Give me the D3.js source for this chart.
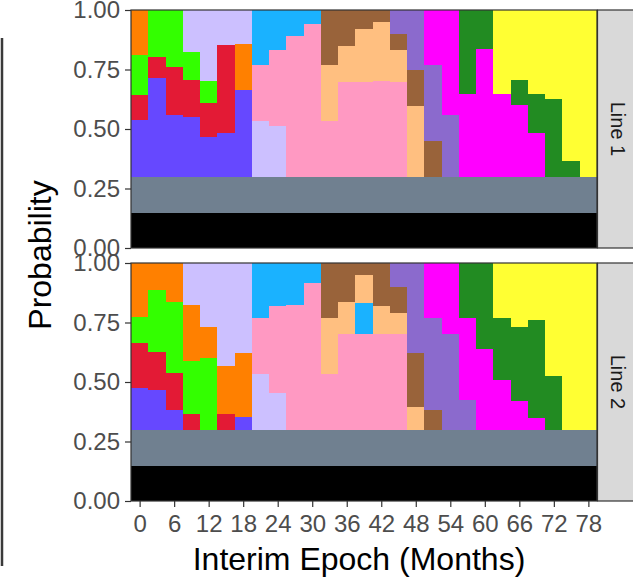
<!DOCTYPE html>
<html>
<head>
<meta charset="utf-8">
<script src="https://cdn.jsdelivr.net/npm/d3@7"></script>
<style>
  body { margin: 0; background: #fff; }
  svg text { font-family: "Liberation Sans", Arial, sans-serif; }
</style>
</head>
<body>
<script>
// months of each interim epoch (bar centres), and the x tick labels
const months = [0,3,6,9,12,15,18,21,24,27,30,33,36,39,42,45,48,51,54,57,60,63,66,69,72,75,78];
const xTicks = [0,6,12,18,24,30,36,42,48,54,60,66,72,78];
const yTicks = [0,0.25,0.5,0.75,1];
const lineNames = ["Line 1", "Line 2"];

// stack order, bottom to top
const categories = ["black","slate","violet","red","lime","orange","lavender","pink","sky","peach","brown","purple","magenta","forest","yellow"];
const catColors = ["#000000","#708090","#6648FF","#E31A35","#33FF00","#FF8000","#CCC0FF","#FF99C2","#1AB2FF","#FFBF80","#99633A","#8B6ACD","#FF00FF","#228B22","#FFFF33"];

// probabilities per category, one value per month, Line 1
const line1Probs = [
  [0.145,0.145,0.145,0.145,0.145,0.145,0.145,0.145,0.145,0.145,0.145,0.145,0.145,0.145,0.145,0.145,0.145,0.145,0.145,0.145,0.145,0.145,0.145,0.145,0.145,0.145,0.145],
  [0.155,0.155,0.155,0.155,0.155,0.155,0.155,0.155,0.155,0.155,0.155,0.155,0.155,0.155,0.155,0.155,0.155,0.155,0.155,0.155,0.155,0.155,0.155,0.155,0.155,0.155,0.155],
  [0.238,0.414,0.259,0.25,0.166,0.183,0.364,0,0,0,0,0,0,0,0,0,0,0,0,0,0,0,0,0,0,0,0],
  [0.105,0.089,0.202,0.156,0.143,0.37,0,0,0,0,0,0,0,0,0,0,0,0,0,0,0,0,0,0,0,0,0],
  [0.168,0.197,0.239,0.118,0.093,0,0,0,0,0,0,0,0,0,0,0,0,0,0,0,0,0,0,0,0,0,0],
  [0.189,0,0,0,0,0,0.193,0,0,0,0,0,0,0,0,0,0,0,0,0,0,0,0,0,0,0,0],
  [0,0,0,0.176,0.298,0.147,0.143,0.234,0.213,0,0,0,0,0,0,0,0,0,0,0,0,0,0,0,0,0,0],
  [0,0,0,0,0,0,0,0.235,0.319,0.591,0.641,0.234,0.397,0.397,0.402,0.397,0,0,0,0,0,0,0,0,0,0,0],
  [0,0,0,0,0,0,0,0.231,0.168,0.109,0.059,0,0,0,0,0,0,0,0,0,0,0,0,0,0,0,0],
  [0,0,0,0,0,0,0,0,0,0,0,0.235,0.152,0.223,0.248,0.135,0.297,0,0,0,0,0,0,0,0,0,0],
  [0,0,0,0,0,0,0,0,0,0,0,0.231,0.151,0.08,0.05,0.067,0.151,0.15,0,0,0,0,0,0,0,0,0],
  [0,0,0,0,0,0,0,0,0,0,0,0,0,0,0,0.101,0.252,0.319,0.259,0,0,0,0,0,0,0,0],
  [0,0,0,0,0,0,0,0,0,0,0,0,0,0,0,0,0,0.231,0.441,0.347,0.536,0.347,0.301,0.183,0,0,0],
  [0,0,0,0,0,0,0,0,0,0,0,0,0,0,0,0,0,0,0,0.353,0.164,0,0.105,0.164,0.326,0.066,0],
  [0,0,0,0,0,0,0,0,0,0,0,0,0,0,0,0,0,0,0,0,0,0.353,0.294,0.353,0.374,0.634,0.7]
];

// Line 2
const line2Probs = [
  [0.145,0.145,0.145,0.145,0.145,0.145,0.145,0.145,0.145,0.145,0.145,0.145,0.145,0.145,0.145,0.145,0.145,0.145,0.145,0.145,0.145,0.145,0.145,0.145,0.145,0.145,0.145],
  [0.155,0.155,0.155,0.155,0.155,0.155,0.155,0.155,0.155,0.155,0.155,0.155,0.155,0.155,0.155,0.155,0.155,0.155,0.155,0.155,0.155,0.155,0.155,0.155,0.155,0.155,0.155],
  [0.175,0.166,0.082,0,0,0,0.053,0,0,0,0,0,0,0,0,0,0,0,0,0,0,0,0,0,0,0,0],
  [0.189,0.16,0.156,0.066,0,0.066,0,0,0,0,0,0,0,0,0,0,0,0,0,0,0,0,0,0,0,0,0],
  [0.109,0.261,0.298,0.222,0.301,0,0,0,0,0,0,0,0,0,0,0,0,0,0,0,0,0,0,0,0,0,0],
  [0.227,0.113,0.164,0.236,0.13,0.201,0.269,0,0,0,0,0,0,0,0,0,0,0,0,0,0,0,0,0,0,0,0],
  [0,0,0,0.176,0.269,0.433,0.378,0.234,0.154,0,0,0,0,0,0,0,0,0,0,0,0,0,0,0,0,0,0],
  [0,0,0,0,0,0,0,0.235,0.365,0.524,0.616,0.234,0.402,0.402,0.402,0.402,0,0,0,0,0,0,0,0,0,0,0],
  [0,0,0,0,0,0,0,0.231,0.181,0.176,0.084,0,0,0.13,0,0,0,0,0,0,0,0,0,0,0,0,0],
  [0,0,0,0,0,0,0,0,0,0,0,0.235,0.134,0.118,0.117,0.088,0.095,0,0,0,0,0,0,0,0,0,0],
  [0,0,0,0,0,0,0,0,0,0,0,0.231,0.164,0.05,0.181,0.109,0.227,0.082,0,0,0,0,0,0,0,0,0],
  [0,0,0,0,0,0,0,0,0,0,0,0,0,0,0,0.101,0.378,0.387,0.402,0.124,0,0,0,0,0,0,0],
  [0,0,0,0,0,0,0,0,0,0,0,0,0,0,0,0,0,0.231,0.298,0.345,0.339,0.21,0.12,0.049,0,0,0],
  [0,0,0,0,0,0,0,0,0,0,0,0,0,0,0,0,0,0,0,0.231,0.361,0.261,0.311,0.412,0.225,0,0],
  [0,0,0,0,0,0,0,0,0,0,0,0,0,0,0,0,0,0,0,0,0,0.229,0.269,0.239,0.475,0.7,0.7]
];

let svg = null;
let x = null;
let panels = [];

setupCanvas();
setupXScale();
appendPanels();
appendXAxis();
appendTitles();

function setupCanvas() {
  svg = d3.select("body").append("svg")
    .attr("width", 633)
    .attr("height", 578);

  // stray frame line on the far left
  svg.append("line")
    .attr("x1", 2).attr("x2", 2)
    .attr("y1", 38).attr("y2", 566)
    .attr("stroke", "#3a3a3a")
    .attr("stroke-width", 2.5);
}

function setupXScale() {
  // each bar is 3 months wide, centred on its month
  x = d3.scaleLinear()
    .domain([-1.5, 79.5])
    .range([131, 597]);
}

function buildRows(probs) {
  return months.map(function(m, i) {
    let row = {month: m};
    categories.forEach(function(c, j) { row[c] = probs[j][i]; });
    return row;
  });
}

function appendPanels() {
  const tops = [10, 263];
  const panelH = 238;
  const allProbs = [line1Probs, line2Probs];
  const color = d3.scaleOrdinal().domain(categories).range(catColors);

  lineNames.forEach(function(name, p) {
    const top = tops[p];
    const y = d3.scaleLinear().domain([0, 1]).range([top + panelH, top]);
    const series = d3.stack().keys(categories)(buildRows(allProbs[p]));

    const g = svg.append("g");
    g.selectAll("g.layer")
      .data(series)
      .enter().append("g")
        .attr("class", "layer")
        .attr("fill", function(d) { return color(d.key); })
      .selectAll("rect")
      .data(function(d) { return d.filter(function(v) { return v[1] - v[0] > 0; }); })
      .enter().append("rect")
        .attr("x", function(d) { return x(d.data.month - 1.5); })
        .attr("width", function(d) { return x(d.data.month + 1.5) - x(d.data.month - 1.5); })
        .attr("y", function(d) { return y(Math.min(d[1], 1)); })
        .attr("height", function(d) { return y(d[0]) - y(Math.min(d[1], 1)); })
        .attr("shape-rendering", "crispEdges");

    // panel border
    svg.append("rect")
      .attr("x", 131).attr("y", top)
      .attr("width", 597 - 131).attr("height", panelH)
      .attr("fill", "none")
      .attr("stroke", "#333333")
      .attr("stroke-width", 1.2);

    // facet strip on the right
    svg.append("rect")
      .attr("x", 597.5).attr("y", top)
      .attr("width", 44).attr("height", panelH)
      .attr("fill", "#D9D9D9")
      .attr("stroke", "#333333")
      .attr("stroke-width", 1.2);
    svg.append("text")
      .attr("transform", "translate(618," + (top + panelH / 2) + ") rotate(90)")
      .attr("dy", "0.35em")
      .style("text-anchor", "middle")
      .style("font-size", "20px")
      .attr("fill", "#1A1A1A")
      .text(name);

    // y axis
    const ax = svg.append("g")
      .attr("transform", "translate(131,0)")
      .call(d3.axisLeft(y).tickValues(yTicks).tickFormat(d3.format(".2f")).tickSize(6).tickPadding(5));
    ax.select(".domain").remove();
    ax.selectAll(".tick line").attr("stroke", "#333333").attr("stroke-width", 1.2);
    ax.selectAll("text").attr("fill", "#4D4D4D").style("font-size", "24px");

    panels.push(y);
  });
}

function appendXAxis() {
  const ax = svg.append("g")
    .attr("transform", "translate(0,501)")
    .call(d3.axisBottom(x).tickValues(xTicks).tickSize(6).tickPadding(8));
  ax.select(".domain").remove();
  ax.selectAll(".tick line").attr("stroke", "#333333").attr("stroke-width", 1.2);
  ax.selectAll("text").attr("fill", "#4D4D4D").style("font-size", "24px");
}

function appendTitles() {
  svg.append("text")
    .attr("x", 359)
    .attr("y", 570)
    .style("text-anchor", "middle")
    .style("font-size", "32px")
    .attr("fill", "#000")
    .text("Interim Epoch (Months)");

  svg.append("text")
    .attr("transform", "translate(51,255) rotate(-90)")
    .style("text-anchor", "middle")
    .style("font-size", "32px")
    .attr("fill", "#000")
    .text("Probability");
}
</script>
</body>
</html>
